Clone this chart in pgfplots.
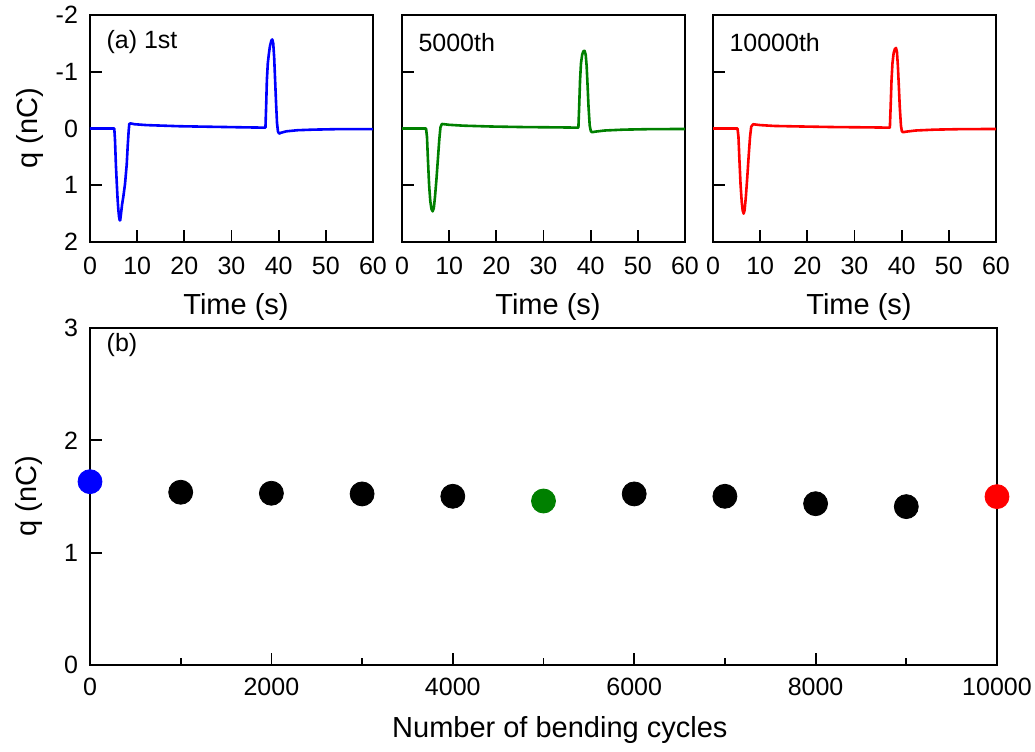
\documentclass[border=0pt]{standalone}
\usepackage{pgfplots}
\pgfplotsset{compat=1.18}
\usepackage{fontspec}
\setmainfont{Liberation Sans}
\definecolor{cblue}{RGB}{0,0,255}
\definecolor{cgreen}{RGB}{0,128,0}
\definecolor{cred}{RGB}{255,0,0}
\pgfplotsset{
  common/.style={
    scale only axis,
    anchor=north west,
    axis line style={line width=1.1pt},
    tick style={line width=0.9pt, black},
    tick align=inside,
    tick pos=left,
    major tick length=6pt,
    minor tick length=3.5pt,
    /pgf/number format/assume math mode=true,
    /pgf/number format/1000 sep={},
    scaled ticks=false,
    tick label style={font=\fontsize{12.5}{14}\selectfont},
    label style={font=\fontsize{14.5}{16}\selectfont},
  },
  toppanel/.style={
    common,
    width=141.5pt, height=113.5pt,
    xmin=0, xmax=60, ymin=-2, ymax=2,
    y dir=reverse,
    xtick={0,10,...,60},
    ytick={-2,-1,0,1,2},
    xlabel={Time (s)},
    xlabel style={at={(axis description cs:0.516,-0.286)}, anchor=center},
    xticklabel style={yshift=-4pt},
    yticklabel style={xshift=-2.5pt},
  },
}
\begin{document}
\begin{tikzpicture}
\useasboundingbox (0,0) rectangle (517.5pt,-375.5pt);
% panel 1
\begin{axis}[toppanel, at={(45pt,-7.5pt)},
  ylabel={q (nC)},
  ylabel style={at={(axis description cs:-0.212,0.5)}, anchor=center, rotate=0},
]
\addplot[cblue, line width=1.3pt, line join=round] coordinates {
(0,0) (5.15,0) (5.3,0.2) (5.5,0.66) (5.7,1.0) (5.85,1.24) (6.0,1.42) (6.15,1.55) (6.3,1.62) (6.4,1.62) (6.55,1.52) (6.8,1.34) (7.07,1.2) (7.42,0.98) (7.78,0.64) (8.0,0.3) (8.2,0.04) (8.33,-0.08) (8.6,-0.09) (9.5,-0.075) (12,-0.06) (19,-0.04) (26,-0.03) (33,-0.02) (37.2,-0.015) (37.35,-0.4) (37.5,-0.85) (37.7,-1.15) (37.9,-1.3) (38.15,-1.45) (38.45,-1.55) (38.65,-1.57) (38.85,-1.5) (39.05,-1.25) (39.25,-0.85) (39.45,-0.45) (39.65,-0.1) (39.85,0.05) (40.1,0.09) (40.5,0.075) (41.6,0.05) (44,0.03) (47.3,0.02) (52,0.012) (60,0.01)
};
\node[anchor=west, inner sep=0pt, font=\fontsize{12.5}{14}\selectfont] at (rel axis cs:0.057,0.88) {(a) 1st};
\end{axis}
% panel 2
\begin{axis}[toppanel, at={(201pt,-7.5pt)}, yticklabels={}]
\addplot[cgreen, line width=1.3pt, line join=round] coordinates {
(0,0) (5.1,0) (5.3,0.15) (5.5,0.55) (5.75,1.0) (6.0,1.28) (6.25,1.42) (6.5,1.46) (6.75,1.4) (7.0,1.2) (7.3,0.9) (7.6,0.55) (7.9,0.2) (8.15,-0.02) (8.45,-0.08) (9,-0.075) (10,-0.065) (13,-0.05) (19,-0.035) (26,-0.025) (33,-0.02) (37.4,-0.015) (37.55,-0.35) (37.75,-0.85) (37.95,-1.15) (38.2,-1.3) (38.45,-1.36) (38.7,-1.37) (38.95,-1.3) (39.15,-1.1) (39.35,-0.75) (39.55,-0.38) (39.8,-0.05) (40.05,0.05) (40.3,0.065) (41,0.055) (43,0.035) (47,0.02) (52,0.012) (60,0.008)
};
\node[anchor=west, inner sep=0pt, font=\fontsize{12.5}{14}\selectfont] at (rel axis cs:0.057,0.88) {5000th};
\end{axis}
% panel 3
\begin{axis}[toppanel, at={(356.5pt,-7.5pt)}, yticklabels={}]
\addplot[cred, line width=1.3pt, line join=round] coordinates {
(0,0) (5.2,0) (5.4,0.15) (5.6,0.55) (5.85,1.0) (6.1,1.3) (6.3,1.45) (6.5,1.5) (6.7,1.44) (6.95,1.22) (7.25,0.88) (7.55,0.5) (7.85,0.15) (8.1,-0.03) (8.5,-0.075) (9,-0.07) (10,-0.06) (13,-0.045) (19,-0.035) (26,-0.025) (33,-0.02) (37.5,-0.015) (37.65,-0.35) (37.85,-0.85) (38.05,-1.15) (38.3,-1.33) (38.55,-1.4) (38.8,-1.42) (39.0,-1.35) (39.2,-1.1) (39.4,-0.75) (39.6,-0.38) (39.85,-0.05) (40.05,0.05) (40.3,0.065) (41,0.055) (43,0.035) (47,0.02) (52,0.012) (60,0.008)
};
\node[anchor=west, inner sep=0pt, font=\fontsize{12.5}{14}\selectfont] at (rel axis cs:0.057,0.88) {10000th};
\end{axis}
% bottom panel
\begin{axis}[common, at={(45pt,-164pt)},
  width=453.5pt, height=168.5pt,
  xmin=0, xmax=10000, ymin=0, ymax=3,
  xtick={0,2000,...,10000},
  minor xtick={1000,3000,...,9000},
  ytick={0,1,2,3},
  clip=false,
  xlabel={Number of bending cycles},
  xlabel style={at={(axis description cs:0.518,-0.193)}, anchor=center},
  ylabel={q (nC)},
  ylabel style={at={(axis description cs:-0.0673,0.5)}, anchor=center},
  xticklabel style={yshift=-3pt},
  yticklabel style={xshift=-2.5pt},
]
\addplot[only marks, mark=*, mark size=6pt, mark options={fill=black, draw=black}] coordinates {
(1000,1.538) (2000,1.529) (3000,1.523) (4000,1.502) (6000,1.523) (7000,1.502) (8000,1.436) (9000,1.410)
};
\addplot[only marks, mark=*, mark size=6pt, mark options={fill=cblue, draw=cblue}] coordinates {(0,1.632)};
\addplot[only marks, mark=*, mark size=6pt, mark options={fill=cgreen, draw=cgreen}] coordinates {(5000,1.460)};
\addplot[only marks, mark=*, mark size=6pt, mark options={fill=cred, draw=cred}] coordinates {(10000,1.499)};
\node[anchor=west, inner sep=0pt, font=\fontsize{12.5}{14}\selectfont] at (rel axis cs:0.018,0.95) {(b)};
\end{axis}
\end{tikzpicture}
\end{document}
